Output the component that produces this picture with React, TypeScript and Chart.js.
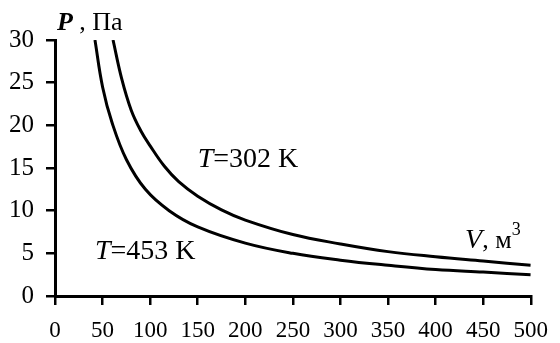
import React, { useEffect, useRef } from "react";
import { Chart, registerables } from "chart.js";

Chart.register(...registerables);

// Curve 1 (upper, labelled T=302 K)
const upperV = [61, 70, 80, 90, 100, 115, 130, 150, 175, 200, 250, 300, 350, 400, 450, 500];
const upperP = [30, 25.5, 21.8, 19.4, 17.6, 15.2, 13.4, 11.7, 10.1, 8.9, 7.2, 6.1, 5.2, 4.6, 4.1, 3.6];
// Curve 2 (lower, labelled T=453 K)
const lowerV = [42, 50, 60, 75, 95, 120, 150, 200, 250, 300, 350, 400, 450, 500];
const lowerP = [30, 24.5, 20.3, 16, 12.5, 10, 8.1, 6.2, 5, 4.2, 3.6, 3.1, 2.8, 2.5];

const xTicks = [0, 50, 100, 150, 200, 250, 300, 350, 400, 450, 500];
const yTicks = [0, 5, 10, 15, 20, 25, 30];

const FONT = "'Liberation Serif', 'Times New Roman', serif";

const textPlugin = {
  id: "labels",
  afterDraw(chart: any) {
    const ctx = chart.ctx;
    const xs = chart.scales.x;
    const ys = chart.scales.y;
    ctx.save();
    ctx.fillStyle = "#000";
    ctx.textBaseline = "alphabetic";
    const draw = (parts: { t: string; f: string; dy?: number }[], x: number, y: number) => {
      let cx = x;
      for (const p of parts) {
        ctx.font = p.f;
        ctx.fillText(p.t, cx, y + (p.dy || 0));
        cx += ctx.measureText(p.t).width;
      }
    };
    const it = `italic 28px ${FONT}`;
    const rg = `28px ${FONT}`;
    // axis titles
    draw(
      [{ t: "P", f: `italic bold 26px ${FONT}` }, { t: " , Па", f: `26px ${FONT}` }],
      xs.getPixelForValue(2),
      ys.getPixelForValue(30) - 10
    );
    draw(
      [{ t: "V", f: it }, { t: ", м", f: `26px ${FONT}` }, { t: "3", f: `18px ${FONT}`, dy: -13 }],
      xs.getPixelForValue(431),
      ys.getPixelForValue(5.6)
    );
    // curve labels
    draw([{ t: "T", f: it }, { t: "=302 K", f: rg }], xs.getPixelForValue(150), ys.getPixelForValue(15.1));
    draw([{ t: "T", f: it }, { t: "=453 K", f: rg }], xs.getPixelForValue(42), ys.getPixelForValue(4.3));
    ctx.restore();
  },
};

export default function App() {
  const ref = useRef<HTMLCanvasElement>(null);
  useEffect(() => {
    const common = {
      borderColor: "#000",
      borderWidth: 3,
      pointRadius: 0,
      tension: 0.4,
      fill: false,
    };
    const chart = new Chart(ref.current!, {
      type: "line",
      data: {
        datasets: [
          { label: "T=302 K", data: upperV.map((v, i) => ({ x: v, y: upperP[i] })), ...common },
          { label: "T=453 K", data: lowerV.map((v, i) => ({ x: v, y: lowerP[i] })), ...common },
        ],
      },
      options: {
        animation: false,
        responsive: false,
        layout: { padding: { top: 40, right: 21, left: 0, bottom: 0 } },
        plugins: { legend: { display: false }, tooltip: { enabled: false } },
        scales: {
          x: {
            type: "linear",
            min: 0,
            max: 500,
            afterBuildTicks: (s: any) => {
              s.ticks = xTicks.map((v) => ({ value: v }));
            },
            afterFit: (s: any) => {
              s.height = 47;
            },
            ticks: { color: "#000", font: { family: FONT, size: 23 }, padding: 12, maxRotation: 0 },
            grid: { drawOnChartArea: false, drawTicks: true, tickLength: 9, color: "#000", lineWidth: 2.5 },
            border: { display: true, color: "#000", width: 3 },
          },
          y: {
            type: "linear",
            min: 0,
            max: 30,
            afterBuildTicks: (s: any) => {
              s.ticks = yTicks.map((v) => ({ value: v }));
            },
            afterFit: (s: any) => {
              s.width = 55;
            },
            ticks: { color: "#000", font: { family: FONT, size: 25 }, padding: 12 },
            grid: { drawOnChartArea: false, drawTicks: true, tickLength: 9, color: "#000", lineWidth: 2.5 },
            border: { display: true, color: "#000", width: 3 },
          },
        },
      },
      plugins: [textPlugin],
    } as any);
    return () => chart.destroy();
  }, []);
  return (
    <div style={{ position: "absolute", left: 0, top: 0, width: 560, height: 343, background: "#fff" }}>
      <canvas ref={ref} width={560} height={343} />
    </div>
  );
}
